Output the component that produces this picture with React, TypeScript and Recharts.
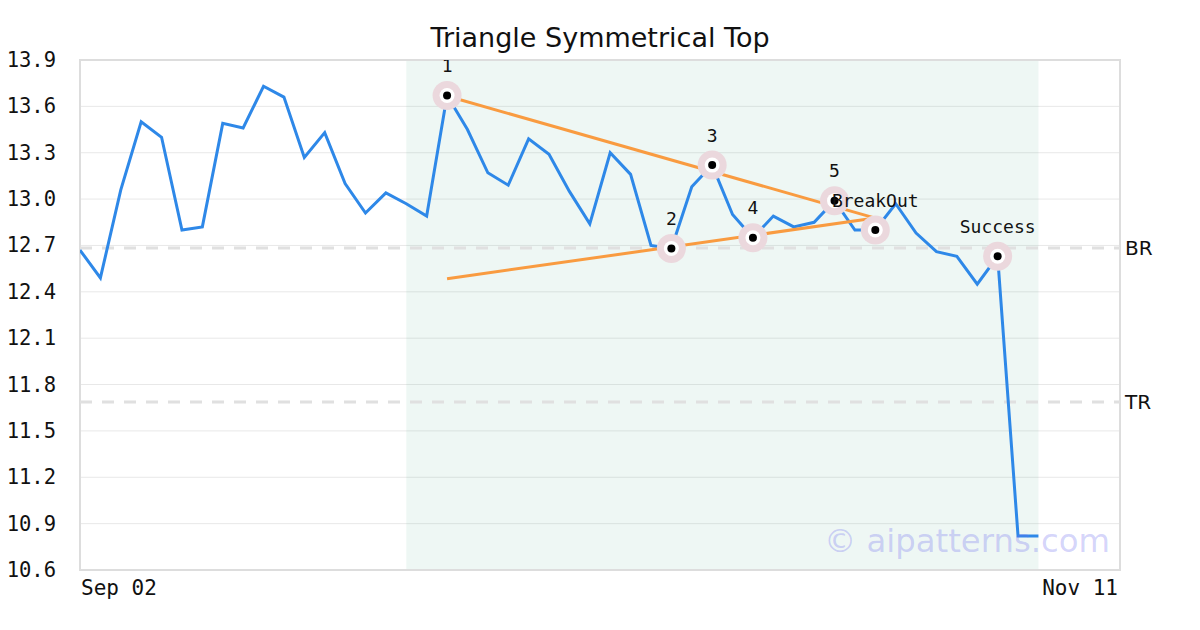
import React from "react";
import {
  ComposedChart,
  Line,
  Scatter,
  XAxis,
  YAxis,
  CartesianGrid,
  ReferenceArea,
  ReferenceLine,
} from "recharts";

// daily closes, Sep 02 .. early Nov (index based)
const closes = [
  12.67, 12.49, 13.06, 13.5, 13.4, 12.8, 12.82, 13.49, 13.46, 13.73, 13.66, 13.27,
  13.43, 13.1, 12.91, 13.04, 12.97, 12.89, 13.67, 13.45, 13.17, 13.09, 13.39, 13.29,
  13.05, 12.84, 13.3, 13.16, 12.7, 12.68, 13.08, 13.22, 12.9, 12.75, 12.89, 12.82,
  12.85, 12.99, 12.8, 12.8, 12.97, 12.78, 12.66, 12.63, 12.45, 12.63, 10.82, 10.82,
];

const xTickLabels = ["Sep 02", "Nov 11"];
const xTicks = [0, 51];
const yTicks = [10.6, 10.9, 11.2, 11.5, 11.8, 12.1, 12.4, 12.7, 13.0, 13.3, 13.6, 13.9];

// pattern markers
const markerNames = ["1", "2", "3", "4", "5", "BreakOut", "Success"];
const markerIdx = [18, 29, 31, 33, 37, 39, 45];

// trend lines of the triangle
const upperLine = [
  { i: 18, v: 13.667 },
  { i: 39, v: 12.877 },
];
const lowerLine = [
  { i: 18, v: 12.485 },
  { i: 39, v: 12.877 },
];

const breakRes = 12.683; // BR
const targetRes = 11.687; // TR
const shadeFrom = 16;
const shadeTo = 47;

const priceData = closes.map((v, i) => ({ i, v }));
const markerData = markerIdx.map((i, k) => ({ i, v: closes[i], name: markerNames[k] }));

const mono = "'DejaVu Sans Mono', monospace";
const sans = "'DejaVu Sans', sans-serif";

const YTick = ({ x, y, payload }: any) => (
  <text x={x - 24} y={y} textAnchor="end" dominantBaseline="central" fontFamily={mono} fontSize={20.5} fill="#111">
    {Number(payload.value).toFixed(1)}
  </text>
);

const XTick = ({ x, y, payload, index }: any) => (
  <text
    x={index === 0 ? x + 1 : x - 2}
    y={y + 25}
    textAnchor={index === 0 ? "start" : "end"}
    fontFamily={mono}
    fontSize={21}
    fill="#111"
  >
    {xTickLabels[xTicks.indexOf(payload.value)]}
  </text>
);

const Marker = (props: any) => {
  const { cx, cy, payload } = props;
  return (
    <g>
      <circle cx={cx} cy={cy} r={14.5} fill="#ebd8dd" />
      <circle cx={cx} cy={cy} r={7.5} fill="#fff" />
      <circle cx={cx} cy={cy} r={4} fill="#000" />
      <text x={cx} y={cy - 30} textAnchor="middle" dominantBaseline="central" fontFamily={mono} fontSize={18} fill="#111">
        {payload.name}
      </text>
    </g>
  );
};

export default function App() {
  return (
    <div style={{ position: "absolute", left: 0, top: 0, width: 1200, height: 630, background: "#fff" }}>
      <div
        style={{
          position: "absolute",
          top: 22,
          width: 1200,
          textAlign: "center",
          fontFamily: sans,
          fontSize: 27,
          color: "#111",
        }}
      >
        Triangle Symmetrical Top
      </div>
      <ComposedChart width={1200} height={630} margin={{ top: 60, right: 80, bottom: 0, left: 0 }}>
        <CartesianGrid vertical={false} stroke="#e8e8e8" strokeWidth={1} />
        <XAxis
          type="number"
          dataKey="i"
          domain={[0, 51]}
          ticks={xTicks}
          height={60}
          tickSize={0}
          tickMargin={0}
          axisLine={false}
          tickLine={false}
          tick={<XTick />}
          allowDataOverflow
        />
        <YAxis
          type="number"
          domain={[10.6, 13.9]}
          ticks={yTicks}
          width={80}
          tickSize={0}
          tickMargin={0}
          axisLine={false}
          tickLine={false}
          tick={<YTick />}
          allowDataOverflow
        />
        <ReferenceArea x1={shadeFrom} x2={shadeTo} y1={10.6} y2={13.9} fill="#55af91" fillOpacity={0.1} stroke="none" />
        <ReferenceArea x1={0} x2={51} y1={10.6} y2={13.9} fill="none" stroke="#dddddd" strokeWidth={2} />
        <ReferenceLine
          y={breakRes}
          stroke="#e0e0e0"
          strokeWidth={3}
          strokeDasharray="12 10"
          label={{ value: "BR", position: "right", offset: 5, fill: "#111", fontSize: 20, fontFamily: sans }}
        />
        <ReferenceLine
          y={targetRes}
          stroke="#e0e0e0"
          strokeWidth={3}
          strokeDasharray="12 10"
          label={{ value: "TR", position: "right", offset: 5, fill: "#111", fontSize: 20, fontFamily: sans }}
        />
        <Line
          data={priceData}
          dataKey="v"
          stroke="#2e88e8"
          strokeWidth={3}
          dot={false}
          activeDot={false}
          isAnimationActive={false}
        />
        <Line
          data={upperLine}
          dataKey="v"
          stroke="#f99b40"
          strokeWidth={3}
          dot={false}
          activeDot={false}
          isAnimationActive={false}
        />
        <Line
          data={lowerLine}
          dataKey="v"
          stroke="#f99b40"
          strokeWidth={3}
          dot={false}
          activeDot={false}
          isAnimationActive={false}
        />
        <Scatter data={markerData} dataKey="v" shape={<Marker />} isAnimationActive={false} />
      </ComposedChart>
      <div
        style={{
          position: "absolute",
          right: 90,
          top: 522,
          fontFamily: sans,
          fontSize: 32.3,
          color: "rgba(110,110,240,0.3)",
        }}
      >
        © aipatterns.com
      </div>
    </div>
  );
}
